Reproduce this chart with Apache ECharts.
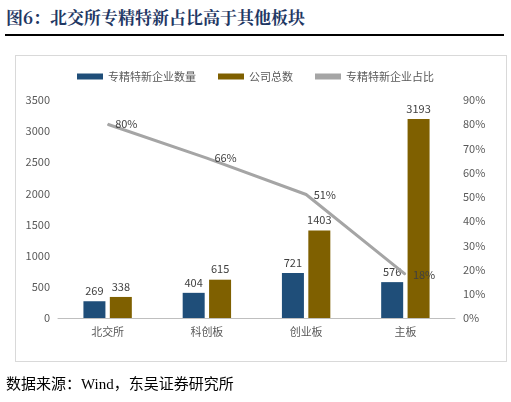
<!DOCTYPE html><html><head><meta charset="utf-8"><script src="https://cdn.jsdelivr.net/npm/echarts@6/dist/echarts.min.js"></script>
<style>body{margin:0;background:#fff;font-family:"Noto Sans CJK SC";}
#t{position:absolute;left:6px;top:4px;font-size:17px;font-weight:bold;color:#1f3864;font-family:"Noto Serif CJK SC","Noto Sans CJK SC";}
#l{position:absolute;left:5px;top:34px;width:499px;height:2px;background:#000;}
#b{position:absolute;left:15px;top:55px;width:490px;height:305px;border:1px solid #d9d9d9;}
#c{position:absolute;left:0;top:0;width:511px;height:402px;}
#s{position:absolute;left:6px;top:372px;font-size:15px;color:#000;font-family:"Liberation Serif","Noto Sans CJK SC";}
</style></head><body><div id="t">图6：北交所专精特新占比高于其他板块</div><div id="l"></div><div id="b"></div><div id="c"></div><div id="s">数据来源：Wind，东吴证券研究所</div>
<script>
const categories=['北交所','科创板','创业板','主板'];
const specialCount=[269,404,721,576];
const totalCount=[338,615,1403,3193];
const ratio=[80,66,51,18];
const ch=echarts.init(document.getElementById('c'));
const lab={show:true,position:'top',color:'#404040',fontSize:11};
ch.setOption({animation:false,textStyle:{fontFamily:'Noto Sans CJK SC'},
legend:{top:66,left:'center',itemWidth:26,itemHeight:6,itemGap:22,textStyle:{fontSize:11,color:'#595959'},
data:[{name:'专精特新企业数量',icon:'rect'},{name:'公司总数',icon:'rect'},{name:'专精特新企业占比',icon:'rect'}]},
grid:{left:58,right:56,top:100,bottom:84},
xAxis:{type:'category',data:categories,axisTick:{show:false},axisLine:{lineStyle:{color:'#bfbfbf'}},axisLabel:{color:'#595959',fontSize:11}},
yAxis:[{type:'value',min:0,max:3500,interval:500,splitLine:{show:false},axisLabel:{color:'#595959',fontSize:11,formatter:v=>String(v)}},
{type:'value',min:0,max:90,interval:10,splitLine:{show:false},axisLabel:{color:'#595959',fontSize:11,formatter:'{value}%'}}],
series:[{name:'专精特新企业数量',type:'bar',data:specialCount,barWidth:22,barGap:'20%',itemStyle:{color:'#1f4e79'},label:lab},
{name:'公司总数',type:'bar',data:totalCount,barWidth:22,itemStyle:{color:'#7f6000'},label:lab},
{name:'专精特新企业占比',type:'line',yAxisIndex:1,data:ratio,symbol:'circle',symbolSize:1,showSymbol:true,lineStyle:{color:'#a5a5a5',width:3},itemStyle:{color:'#a5a5a5'},
label:{show:true,position:'right',offset:[2,0],color:'#404040',fontSize:11,formatter:'{c}%'}}]});
</script></body></html>
